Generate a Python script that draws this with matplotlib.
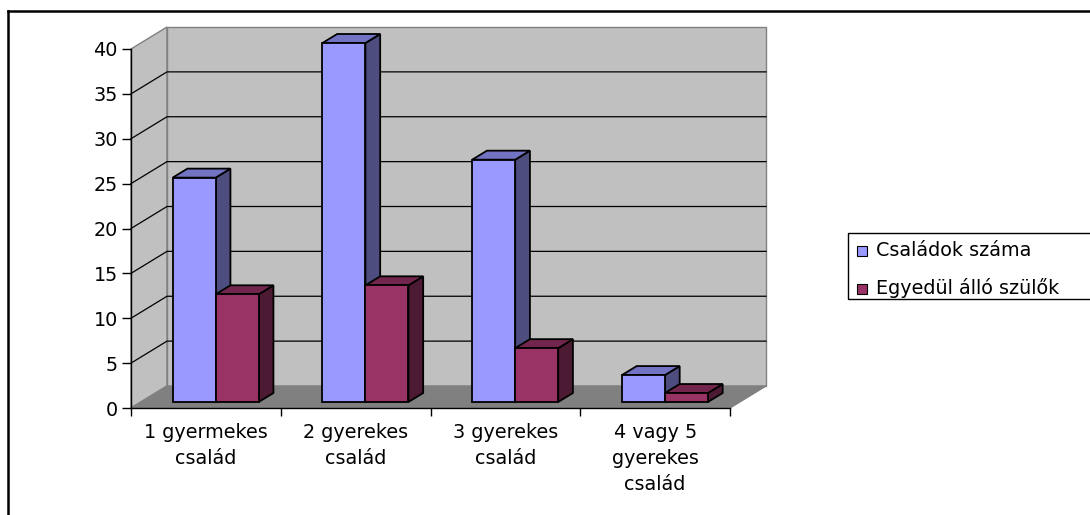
import numpy as np
import matplotlib.pyplot as plt
from matplotlib.patches import Polygon, Rectangle
from matplotlib.lines import Line2D

# data
categories = ["1 gyermekes\ncsalád", "2 gyerekes\ncsalád", "3 gyerekes\ncsalád",
              "4 vagy 5\ngyerekes\ncsalád"]
series_names = ["Családok száma", "Egyedül álló szülők"]
csaladok = [25, 40, 27, 3]
egyedul = [12, 13, 6, 1]
y_ticks = [0, 5, 10, 15, 20, 25, 30, 35, 40]

plt.rcParams['font.family'] = ['DejaVu Sans']
FS = 13.8

W, H = 1090, 515
fig = plt.figure(figsize=(W / 100, H / 100), dpi=100)

# front plane of the 3D box, in pixels
x_left, x_right = 131, 730
y_zero, y_top = 408, 49
ax = fig.add_axes([x_left / W, 1 - y_zero / H, (x_right - x_left) / W, (y_zero - y_top) / H])
ax.set_xlim(0, len(categories))
ax.set_ylim(0, 40)
ax.patch.set_visible(False)

# depth of the box, in data units
DX = 36 / ((x_right - x_left) / len(categories))
DY = 22 / ((y_zero - y_top) / 40)


def pt(x, y, t):
    return (x + t * DX, y + t * DY)


def face(pts, fc, ec, lw, z):
    ax.add_patch(Polygon(pts, closed=True, facecolor=fc, edgecolor=ec, lw=lw,
                         clip_on=False, zorder=z, joinstyle='miter'))


n = len(categories)
ymax = y_ticks[-1]

# walls and floor
face([pt(0, 0, 0), pt(0, 0, 1), pt(0, ymax, 1), pt(0, ymax, 0)], '#C0C0C0', '#808080', 1, 1)
face([pt(0, 0, 1), pt(n, 0, 1), pt(n, ymax, 1), pt(0, ymax, 1)], '#C0C0C0', '#808080', 1, 1)
face([pt(0, 0, 0), pt(n, 0, 0), pt(n, 0, 1), pt(0, 0, 1)], '#808080', '#808080', 1, 1.5)

# gridlines on side + back wall
for v in y_ticks[1:-1]:
    p0, p1, p2 = pt(0, v, 0), pt(0, v, 1), pt(n, v, 1)
    ax.plot([p0[0], p1[0], p2[0]], [p0[1], p1[1], p2[1]], color='black', lw=0.9,
            clip_on=False, zorder=2)

# bars
bw = 43 / ((x_right - x_left) / n)
gap = (1 - 2 * bw) / 2
t0, t1 = 6 / 22, 15 / 22
styles = [('#9999FF', '#7373C4', '#4D4D80'),
          ('#993366', '#73264D', '#4D1A33')]
z = 3
for i in range(n):
    for j, vals in enumerate([csaladok, egyedul]):
        v = vals[i]
        front, top, side = styles[j]
        x0 = i + gap + j * bw
        x1 = x0 + bw
        face([pt(x1, 0, t0), pt(x1, v, t0), pt(x1, v, t1), pt(x1, 0, t1)], side, 'black', 1.3, z)
        face([pt(x0, v, t0), pt(x1, v, t0), pt(x1, v, t1), pt(x0, v, t1)], top, 'black', 1.3, z)
        face([pt(x0, 0, t0), pt(x1, 0, t0), pt(x1, v, t0), pt(x0, v, t0)], front, 'black', 1.3, z)
        z += 1

# axes
for s in ['top', 'right']:
    ax.spines[s].set_visible(False)
for s in ['left', 'bottom']:
    ax.spines[s].set_color('black')
    ax.spines[s].set_linewidth(1)
    ax.spines[s].set_zorder(2)

ax.set_yticks(y_ticks)
ax.tick_params(axis='y', direction='out', length=6.5, width=1, labelsize=FS, pad=3)
ax.set_xticks(range(n + 1))
ax.set_xticklabels([])
ax.set_xticks(np.arange(n) + 0.5, minor=True)
ax.set_xticklabels(categories, minor=True, linespacing=1.45)
ax.tick_params(axis='x', which='major', direction='out', length=6, width=1)
ax.tick_params(axis='x', which='minor', length=0, labelsize=FS, pad=11)

# outer frame (only top and left visible)
fig.add_artist(Line2D([8 / W, 8 / W], [0, 1 - 11 / H], transform=fig.transFigure,
                      color='black', lw=1.8))
fig.add_artist(Line2D([8 / W, 1], [1 - 11 / H, 1 - 11 / H], transform=fig.transFigure,
                      color='black', lw=1.8))

# legend, drawn by hand since its box runs off the right edge
fig.add_artist(Rectangle((848 / W, 1 - 299 / H), 260 / W, 66 / H, transform=fig.transFigure,
                         fill=False, ec='black', lw=1))
for k, (name, col) in enumerate(zip(series_names, [styles[0][0], styles[1][0]])):
    yc = 250 + k * 38
    fig.add_artist(Rectangle((857 / W, 1 - (yc + 6) / H), 10 / W, 10 / H,
                             transform=fig.transFigure, fc=col, ec='black', lw=0.8))
    fig.text(876 / W, 1 - yc / H, name, fontsize=FS, va='center', ha='left')

fig.savefig('out.png', dpi=100)
